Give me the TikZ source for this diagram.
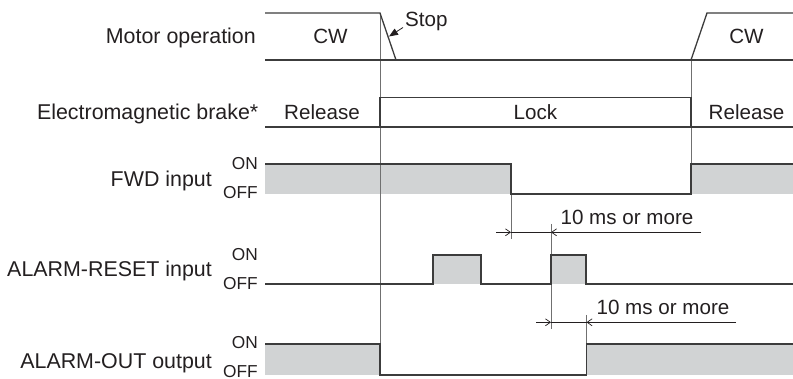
\documentclass[tikz,border=0pt]{standalone}
\usepackage{fontspec}
\setmainfont{Liberation Sans}
\usetikzlibrary{arrows.meta}
\definecolor{ink}{HTML}{231F20}
\definecolor{sig}{HTML}{3C3C3C}
\definecolor{guide}{HTML}{707070}
\definecolor{boxgray}{HTML}{D1D3D4}
\tikzset{
  lbl/.style={inner sep=0pt, text=ink, font=\fontsize{20.6}{24}\selectfont},
  rowlbl/.style={inner sep=0pt, text=ink, anchor=base east, font=\fontsize{21.4}{25}\selectfont},
  onoff/.style={inner sep=0pt, text=ink, anchor=base east, font=\fontsize{17.3}{20}\selectfont},
  sigline/.style={draw=sig, line width=1.3pt, line join=miter},
  guideline/.style={draw=guide, line width=0.8pt},
  fillbox/.style={fill=boxgray, draw=none},
  dimline/.style={draw=ink, line width=0.8pt},
  dimtip/.style={dimline, -{Straight Barb[length=5pt,width=7pt,line width=0.7pt]}},
}
\begin{document}
\begin{tikzpicture}[x=1pt,y=-1pt]
\useasboundingbox (0,0) rectangle (793,379);
% shaded areas
\path[fillbox] (265,164) rectangle (511,194);
\path[fillbox] (691,164) rectangle (793,194);
\path[fillbox] (433,255) rectangle (481,284);
\path[fillbox] (551,255) rectangle (586,284);
\path[fillbox] (265,344) rectangle (380,375);
\path[fillbox] (586,344) rectangle (793,375);
% guide lines
\draw[guideline] (380,13) -- (380,375);
\draw[guideline] (691,60) -- (691,194);
\draw[guideline] (511,164) -- (511,239);
\draw[guideline] (551,224) -- (551,329);
\draw[guideline] (586.5,315) -- (586.5,375);
% labels
\node[rowlbl] (mo) at (256,44) {Motor operation};
\node[rowlbl] (eb) at (258.5,120) {Electromagnetic brake*};
\node[rowlbl] (fwd) at (212,187) {FWD input};
\node[rowlbl] (ar) at (212,277) {ALARM-RESET input};
\node[rowlbl] (ao) at (212,369) {ALARM-OUT output};
\node[onoff] (on1) at (258,170) {ON};
\node[onoff] (off1) at (258,199) {OFF};
\node[onoff] (on2) at (258,261) {ON};
\node[onoff] (off2) at (258,290) {OFF};
\node[onoff] (on3) at (258,349) {ON};
\node[onoff] (off3) at (258,378) {OFF};
% motor operation
\draw[sigline] (265,13) -- (380,13) -- (396,60);
\draw[sigline] (265,60) -- (793,60);
\draw[sigline] (691,60) -- (707,13) -- (793,13);
\node[lbl, anchor=base] (cw1) at (330.5,44) {CW};
\node[lbl, anchor=base] (cw2) at (746.5,44) {CW};
\node[lbl, anchor=base west] (stop) at (405,27) {Stop};
\coordinate (stopend) at (389,36.5);
\draw[draw=ink, line width=0.8pt, -{Triangle[length=9pt,width=7pt]}] (403,27.5) -- (stopend);
% brake
\draw[sigline] (380,127) -- (380,97.5) -- (691,97.5) -- (691,127);
\draw[sigline] (265,127) -- (793,127);
\node[lbl, anchor=base] (rel1) at (322,120) {Release};
\node[lbl, anchor=base] (lock) at (535.5,120) {Lock};
\node[lbl, anchor=base] (rel2) at (746.5,120) {Release};
% FWD input
\draw[sigline] (265,164) -- (511,164) -- (511,194) -- (691,194) -- (691,164) -- (793,164);
% ALARM-RESET input
\draw[sigline] (265,284) -- (433,284) -- (433,255) -- (481,255) -- (481,284) -- (551,284) -- (551,255) -- (586,255) -- (586,284) -- (793,284);
% ALARM-OUT output
\draw[sigline] (265,344) -- (380,344) -- (380,375) -- (586.5,375) -- (586.5,344) -- (793,344);
% dimension 1
\coordinate (d1a) at (496,232.3);
\coordinate (d1b) at (511,232.3);
\coordinate (d1c) at (551,232.3);
\coordinate (d1d) at (701,232.3);
\draw[dimtip] (d1a) -- (d1b);
\draw[dimline] (d1b) -- (d1c);
\draw[dimtip] (d1d) -- (d1c);
\node[lbl, anchor=base] (t1) at (627,225) {10 ms or more};
% dimension 2
\coordinate (d2a) at (536,322.3);
\coordinate (d2b) at (551,322.3);
\coordinate (d2c) at (586.5,322.3);
\coordinate (d2d) at (736,322.3);
\draw[dimtip] (d2a) -- (d2b);
\draw[dimline] (d2b) -- (d2c);
\draw[dimtip] (d2d) -- (d2c);
\node[lbl, anchor=base] (t2) at (663,315) {10 ms or more};
\end{tikzpicture}
\end{document}
